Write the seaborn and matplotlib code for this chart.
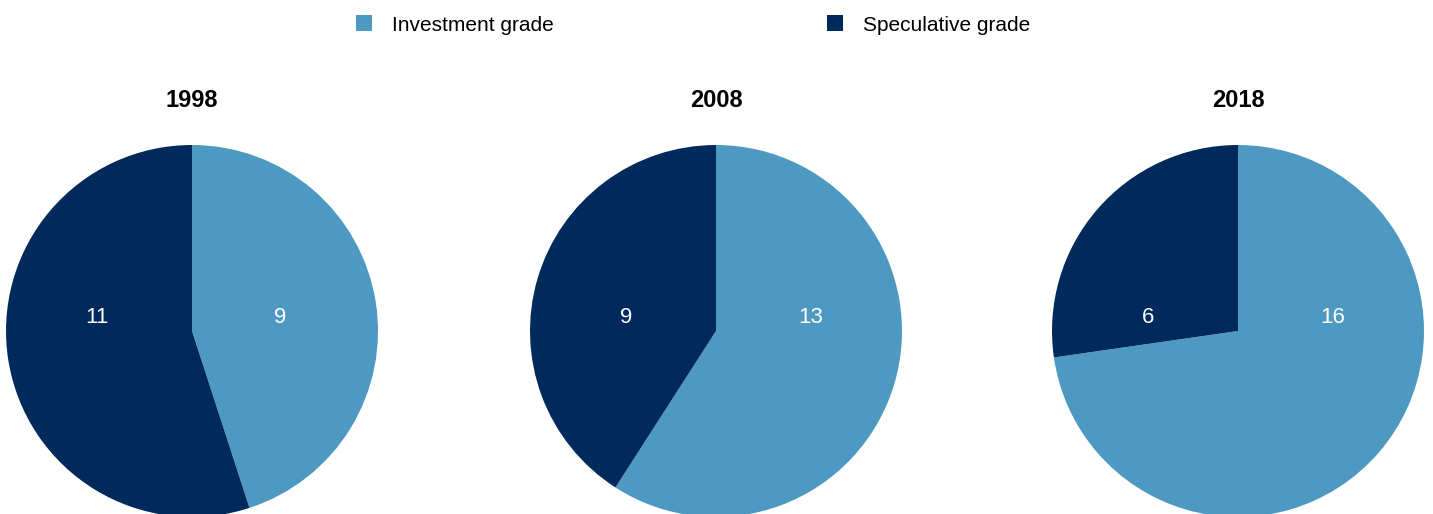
import matplotlib
matplotlib.use("Agg")
import matplotlib.pyplot as plt
from matplotlib.patches import Patch
import seaborn as sns

years = ["1998", "2008", "2018"]
investment_grade = [9, 13, 16]
speculative_grade = [11, 9, 6]
series_names = ["Investment grade", "Speculative grade"]
colors = ["#4E99C1", "#012A5C"]

sns.set_theme(style="white")
plt.rcParams["font.family"] = ["Liberation Sans", "DejaVu Sans"]
plt.rcParams["text.color"] = "black"

W, H = 1433, 514
fig = plt.figure(figsize=(W / 100, H / 100), dpi=100)

radius_px = 186
centers_x = [192, 716, 1238]
center_y = 331

for year, inv, spec, cx in zip(years, investment_grade, speculative_grade, centers_x):
    ax = fig.add_axes([(cx - radius_px) / W, (H - center_y - radius_px) / H,
                       2 * radius_px / W, 2 * radius_px / H])
    ax.pie([inv, spec], colors=colors, startangle=90, counterclock=False,
           radius=1, wedgeprops=dict(linewidth=0))
    ax.set_xlim(-1, 1)
    ax.set_ylim(-1, 1)
    ax.set_aspect("equal")
    ax.axis("off")
    ax.text(0.44, 0.075, str(inv), color="white", fontsize=16,
            ha="left", va="center")
    ax.text(-0.45, 0.075, str(spec), color="white", fontsize=16,
            ha="right", va="center")
    ax.text(0, 1.24, year, fontsize=17, fontweight="bold", color="black",
            ha="center", va="center", clip_on=False)

handles = [Patch(facecolor=c, edgecolor="none") for c in colors]
fig.legend(handles, series_names, loc="center", ncol=2,
           bbox_to_anchor=(693 / W, 1 - 25 / H), frameon=False,
           fontsize=15, handlelength=0.77, handleheight=0.77,
           handletextpad=0.96, columnspacing=13.1, borderpad=0)

fig.savefig("out.png", dpi=100)
